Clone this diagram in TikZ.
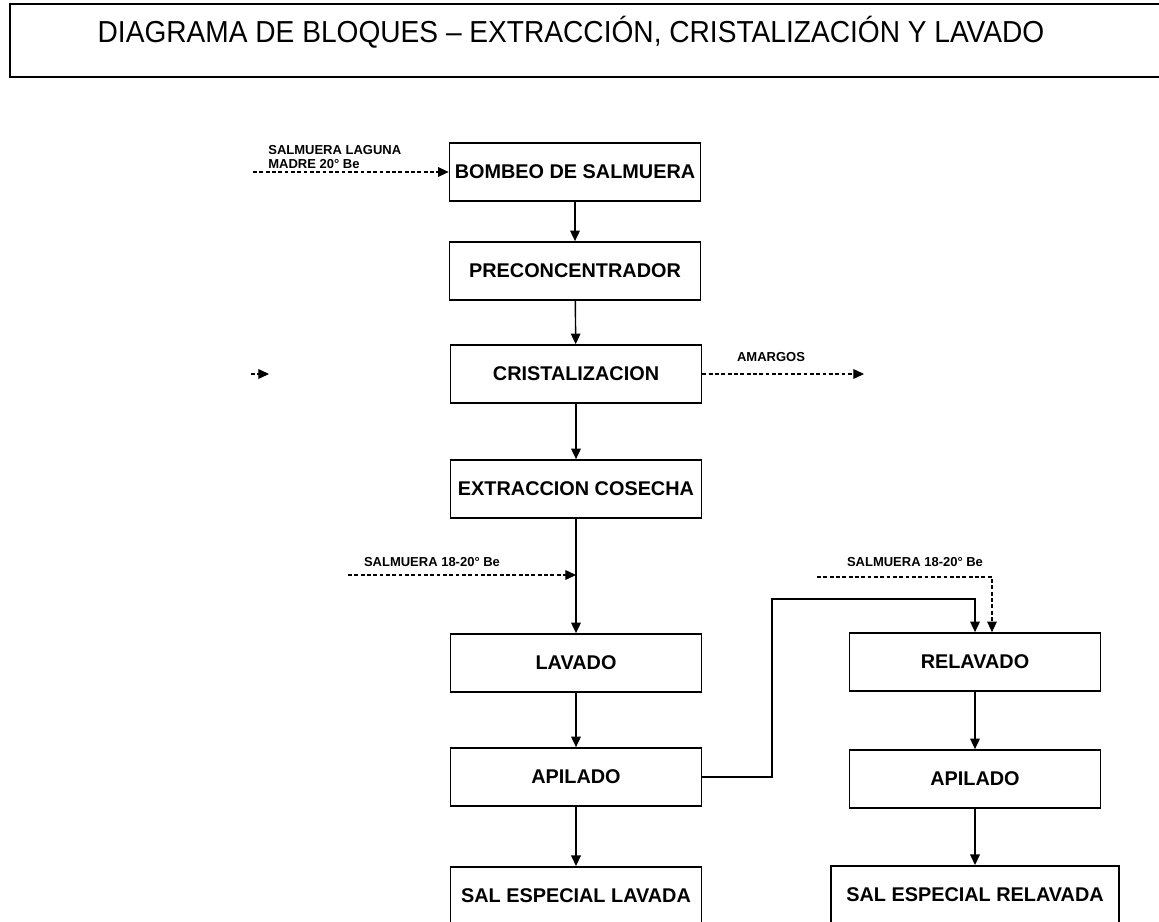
\documentclass[tikz,border=0pt]{standalone}
\usepackage{fontspec}
\setmainfont{Liberation Sans}
\usetikzlibrary{arrows.meta}

\tikzset{
  bloque/.style={draw,line width=1pt,minimum width=5.02cm,minimum height=1.16cm,inner sep=0pt,font=\fontsize{11.3}{13}\selectfont\bfseries},
  etiq/.style={inner sep=0pt,font=\fontsize{7.4}{8.2}\selectfont\bfseries},
  flujo/.style={line width=0.8pt,-{Triangle[length=6pt,width=5.5pt]}},
  flujod/.style={line width=0.6pt,dash pattern=on 2.2pt off 1.4pt,-{Triangle[length=6pt,width=5.5pt]}}
}

\begin{document}
\begin{tikzpicture}[x=0.02cm,y=-0.02cm]
\useasboundingbox (0,0) rectangle (1159,922);
\draw[line width=1pt] (10,4) rectangle (1175,77);
\node[font=\fontsize{16}{18}\selectfont] (titulo) at (571,32) {\scalebox{1}[1.08]{DIAGRAMA DE BLOQUES -- EXTRACCIÓN, CRISTALIZACIÓN Y LAVADO}};
\node[bloque] (bombeo) at (575,172) {BOMBEO DE SALMUERA};
\node[bloque] (precon) at (575,271) {PRECONCENTRADOR};
\node[bloque] (cristal) at (576,374) {CRISTALIZACION};
\node[bloque] (extrac) at (576,489) {EXTRACCION COSECHA};
\node[bloque] (lavado) at (576,663) {LAVADO};
\node[bloque] (apila) at (576,777) {APILADO};
\node[bloque,anchor=north] (sallav) at (576,866) {SAL ESPECIAL LAVADA};
\node[bloque] (relav) at (975,662) {RELAVADO};
\node[bloque] (apilb) at (975,779) {APILADO};
\node[bloque,minimum width=5.76cm,anchor=north] (salrel) at (975,865) {SAL ESPECIAL RELAVADA};
\node[etiq,align=left,anchor=west] (laguna) at (268,157) {SALMUERA LAGUNA\\MADRE 20° Be};
\node[etiq] (amarg) at (771,357) {AMARGOS};
\node[etiq] (salmA) at (432,562) {SALMUERA 18-20° Be};
\node[etiq] (salmB) at (915,562) {SALMUERA 18-20° Be};
\coordinate (lagA) at (253,172);
\coordinate (sueltoA) at (251,374);
\coordinate (sueltoB) at (269,374);
\coordinate (amargB) at (864,374);
\coordinate (salA) at (348,575);
\coordinate (salB) at (817,577);
\coordinate (codo) at (772,599);
\draw[flujod] (lagA) -- (bombeo.west);
\draw[flujod] (sueltoA) -- (sueltoB);
\draw[flujod] (cristal.east) -- (amargB);
\draw[flujod] (salA) -- (salA -| extrac.south);
\draw[flujod] (salB) -| ([xshift=0.34cm]relav.north);
\draw[flujo] (bombeo) -- (precon);
\draw[flujo] (precon) -- (cristal);
\draw[flujo] (cristal) -- (extrac);
\draw[flujo] (extrac) -- (lavado);
\draw[flujo] (lavado) -- (apila);
\draw[flujo] (apila) -- (sallav);
\draw[flujo] (apila.east) -| (codo) -| (relav.north);
\draw[flujo] (relav) -- (apilb);
\draw[flujo] (apilb) -- (salrel);
\end{tikzpicture}
\end{document}
